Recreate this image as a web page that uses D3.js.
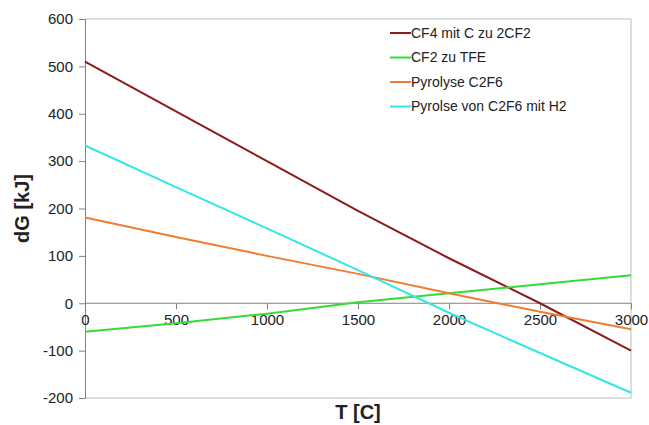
<!DOCTYPE html>
<html>
<head>
<meta charset="utf-8">
<script src="https://cdn.jsdelivr.net/npm/d3@7"></script>
<style>
  body { margin: 0; background: #fff; }
  text { font-family: "Liberation Sans", Arial, sans-serif; fill: #222; }
</style>
</head>
<body>
<div id="vis"></div>
<script>
var width = 649,
    height = 425;

var temps = [0, 500, 1000, 1500, 2000, 2500, 3000];
var xTicks = [0, 500, 1000, 1500, 2000, 2500, 3000];
var yTicks = [-200, -100, 0, 100, 200, 300, 400, 500, 600];

var names = ["CF4 mit C zu 2CF2", "CF2 zu TFE", "Pyrolyse C2F6", "Pyrolse von C2F6 mit H2"];
var colors = ["#8b1c1c", "#33dd33", "#ef7d2d", "#33e6e6"];

var cf4 = [510, 405, 300, 195, 95, 0, -100];
var cf2 = [-60, -42, -22, 2, 21, 40, 59];
var pyro = [181, 140, 100, 62, 21, -18, -55];
var pyroH2 = [333, 245, 158, 70, -20, -105, -189];

var series = [cf4, cf2, pyro, pyroH2];

var plotLeft = 85, plotRight = 631, plotTop = 19, plotBottom = 398;

var x = d3.scaleLinear().domain([0, 3000]).range([plotLeft, plotRight]);
var y = d3.scaleLinear().domain([-200, 600]).range([plotBottom, plotTop]);

// plain hyphen for negatives, like the original
var fmt = function(d) { return String(d); };

var svg = d3.select("#vis").append("svg")
    .attr("width", width)
    .attr("height", height);

// plot frame (light)
svg.append("path")
    .attr("d", "M" + [plotLeft, plotTop] + "H" + plotRight + "V" + plotBottom + "H" + plotLeft)
    .attr("fill", "none")
    .attr("stroke", "#d4d4d4")
    .attr("stroke-width", 1.5);

// y axis
var yAxis = svg.append("g")
    .attr("transform", "translate(" + plotLeft + ",0)")
    .call(d3.axisLeft(y).tickValues(yTicks).tickFormat(fmt).tickSize(6).tickPadding(6));
yAxis.selectAll("path, line").attr("stroke", "#808080");
yAxis.selectAll("text")
    .style("font-size", "15px")
    .style("font-family", "Liberation Sans, Arial, sans-serif")
    .attr("fill", "#222");

// x axis at zero
var xAxis = svg.append("g")
    .attr("transform", "translate(0," + y(0) + ")")
    .call(d3.axisBottom(x).tickValues(xTicks).tickFormat(fmt).tickSize(6).tickPadding(5).tickSizeOuter(0));
xAxis.selectAll("path, line").attr("stroke", "#808080");
xAxis.select(".domain").attr("d", "M" + plotLeft + ",0H" + plotRight);
xAxis.selectAll("text")
    .style("font-size", "15px")
    .style("font-family", "Liberation Sans, Arial, sans-serif")
    .attr("fill", "#222");

// lines
var line = d3.line()
    .x(function(d, i) { return x(temps[i]); })
    .y(function(d) { return y(d); });

svg.selectAll(".series")
    .data(series)
    .enter().append("path")
    .attr("class", "series")
    .attr("d", line)
    .attr("fill", "none")
    .attr("stroke", function(d, i) { return colors[i]; })
    .attr("stroke-width", 2);

// legend
var legend = svg.selectAll(".legend")
    .data(names)
    .enter().append("g")
    .attr("class", "legend")
    .attr("transform", function(d, i) { return "translate(390," + (33 + i * 24.5) + ")"; });

legend.append("line")
    .attr("x1", 0).attr("x2", 21)
    .attr("stroke", function(d, i) { return colors[i]; })
    .attr("stroke-width", 2);

legend.append("text")
    .attr("x", 21)
    .attr("dy", "0.35em")
    .style("font-size", "14px")
    .text(function(d) { return d; });

// axis titles
svg.append("text")
    .attr("x", (plotLeft + plotRight) / 2)
    .attr("y", 419)
    .attr("text-anchor", "middle")
    .style("font-size", "20px")
    .style("font-weight", "bold")
    .text("T [C]");

svg.append("text")
    .attr("transform", "translate(29," + ((plotTop + plotBottom) / 2) + ")rotate(-90)")
    .attr("text-anchor", "middle")
    .style("font-size", "20px")
    .style("font-weight", "bold")
    .text("dG [kJ]");
</script>
</body>
</html>
